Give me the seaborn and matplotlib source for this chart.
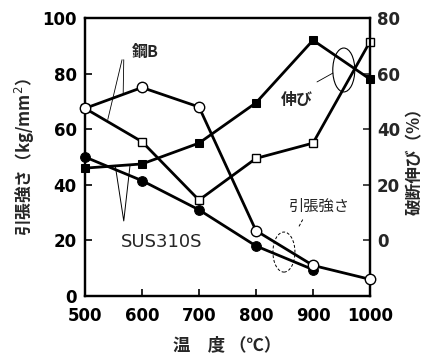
import matplotlib
matplotlib.use("Agg")
import matplotlib.pyplot as plt
from matplotlib.patches import Ellipse
import seaborn as sns
import pandas as pd

# ---- data ----
temps = [500, 600, 700, 800, 900, 1000]
temps_sus = [500, 600, 700, 800, 900]
tensile_steelB = [67.5, 75, 68, 23.5, 11, 6]          # kg/mm2 (open circles)
tensile_sus310s = [50, 41.5, 31, 18, 9.5]             # kg/mm2 (filled circles)
elong_steelB = [47.5, 35.5, 14.5, 29.5, 35, 71.5]     # % (open squares)
elong_sus310s = [26, 27.5, 35, 49.5, 72, 58]          # % (filled squares)

left_ticks = [0, 20, 40, 60, 80, 100]
right_ticks = [0, 20, 40, 60, 80]
x_ticks = [500, 600, 700, 800, 900, 1000]

sns.set_style("white")
plt.rcParams['font.family'] = ['Noto Sans CJK JP', 'DejaVu Sans']
num_font = ['DejaVu Sans']

fig = plt.figure(figsize=(4.3, 3.56), dpi=100)
ax = fig.add_axes([85/430, 1-296/356, 285/430, 278/356])
ax2 = ax.twinx()

lw = 2.0
# elongation (right axis)
df_e1 = pd.DataFrame({"t": temps, "v": elong_steelB})
df_e2 = pd.DataFrame({"t": temps, "v": elong_sus310s})
sns.lineplot(data=df_e1, x="t", y="v", ax=ax2, color="black", lw=lw, marker="s",
             markersize=6, markerfacecolor="white", markeredgecolor="black",
             markeredgewidth=1.0, clip_on=False, zorder=3)
sns.lineplot(data=df_e2, x="t", y="v", ax=ax2, color="black", lw=lw, marker="s",
             markersize=6, markerfacecolor="black", markeredgecolor="black",
             clip_on=False, zorder=3)

# tensile strength (left axis)
df_t1 = pd.DataFrame({"t": temps, "v": tensile_steelB})
df_t2 = pd.DataFrame({"t": temps_sus, "v": tensile_sus310s})
sns.lineplot(data=df_t2, x="t", y="v", ax=ax, color="black", lw=lw, marker="o",
             markersize=7, markerfacecolor="black", markeredgecolor="black",
             clip_on=False, zorder=3)
sns.lineplot(data=df_t1, x="t", y="v", ax=ax, color="black", lw=lw, marker="o",
             markersize=7.5, markerfacecolor="white", markeredgecolor="black",
             markeredgewidth=1.0, clip_on=False, zorder=4)
ax.set_zorder(ax2.get_zorder() + 1)
ax.patch.set_visible(False)

ax.set_xlim(500, 1000)
ax.set_ylim(0, 100)
ax2.set_ylim(-20, 80)

ax.set_xticks(x_ticks)
ax.set_yticks(left_ticks)
ax2.set_yticks(right_ticks)
ax.set_xticklabels([str(t) for t in x_ticks], fontsize=12, fontweight='bold', family=num_font)
ax.set_yticklabels([str(t) for t in left_ticks], fontsize=12, fontweight='bold', family=num_font)
ax2.set_yticklabels([str(t) for t in right_ticks], fontsize=12, fontweight='bold', family=num_font)

for a in (ax, ax2):
    for s in a.spines.values():
        s.set_color("black")
        s.set_linewidth(1.6)
ax.tick_params(axis='both', direction='in', length=5, width=1.2, colors='black')
ax.tick_params(axis='x', top=False, bottom=True, pad=8)
ax.tick_params(axis='y', left=True, right=False, pad=6)
ax2.tick_params(axis='y', direction='in', length=5, width=1.2, pad=5, right=True)

ax.set_xlabel("温　度 （℃）", fontsize=12.5, fontweight='bold', labelpad=8)
ax.set_ylabel("引張強さ（kg/mm$^2$）", fontsize=12, fontweight='bold', labelpad=4)
ax2.set_ylabel("破断伸び（%）", fontsize=12, fontweight='bold', labelpad=4)

# ---- annotations ----
ax.text(605, 87.8, "鋼B", fontsize=11.5, fontweight='bold', ha='center', va='center')
ax.plot([568, 567], [85, 73], color='black', lw=0.6, clip_on=False)
ax.plot([565, 540], [85, 63.5], color='black', lw=0.6, clip_on=False)

ax.text(634, 19.5, "SUS310S", fontsize=13, ha='center', va='center', family=num_font)
ax.plot([553, 568, 579], [47, 27, 47], color='black', lw=0.7, clip_on=False)

ax.text(912, 32.3, "引張強さ", fontsize=11, ha='center', va='center')
ax.add_patch(Ellipse((849, 15.8), 38.6, 14.4, fill=False, ec='black', lw=0.7, ls=(0, (3, 2))))
ax.plot([882, 874], [27.5, 24.5], color='black', lw=0.7, ls=(0, (3, 2)))

ax.text(872, 70.5, "伸び", fontsize=11.5, fontweight='bold', ha='center', va='center')
ax.add_patch(Ellipse((954, 81.3), 38.6, 15.8, fill=False, ec='black', lw=0.8))
ax.plot([907, 935], [77, 80.2], color='black', lw=0.6)

fig.savefig("out.png", dpi=100)
